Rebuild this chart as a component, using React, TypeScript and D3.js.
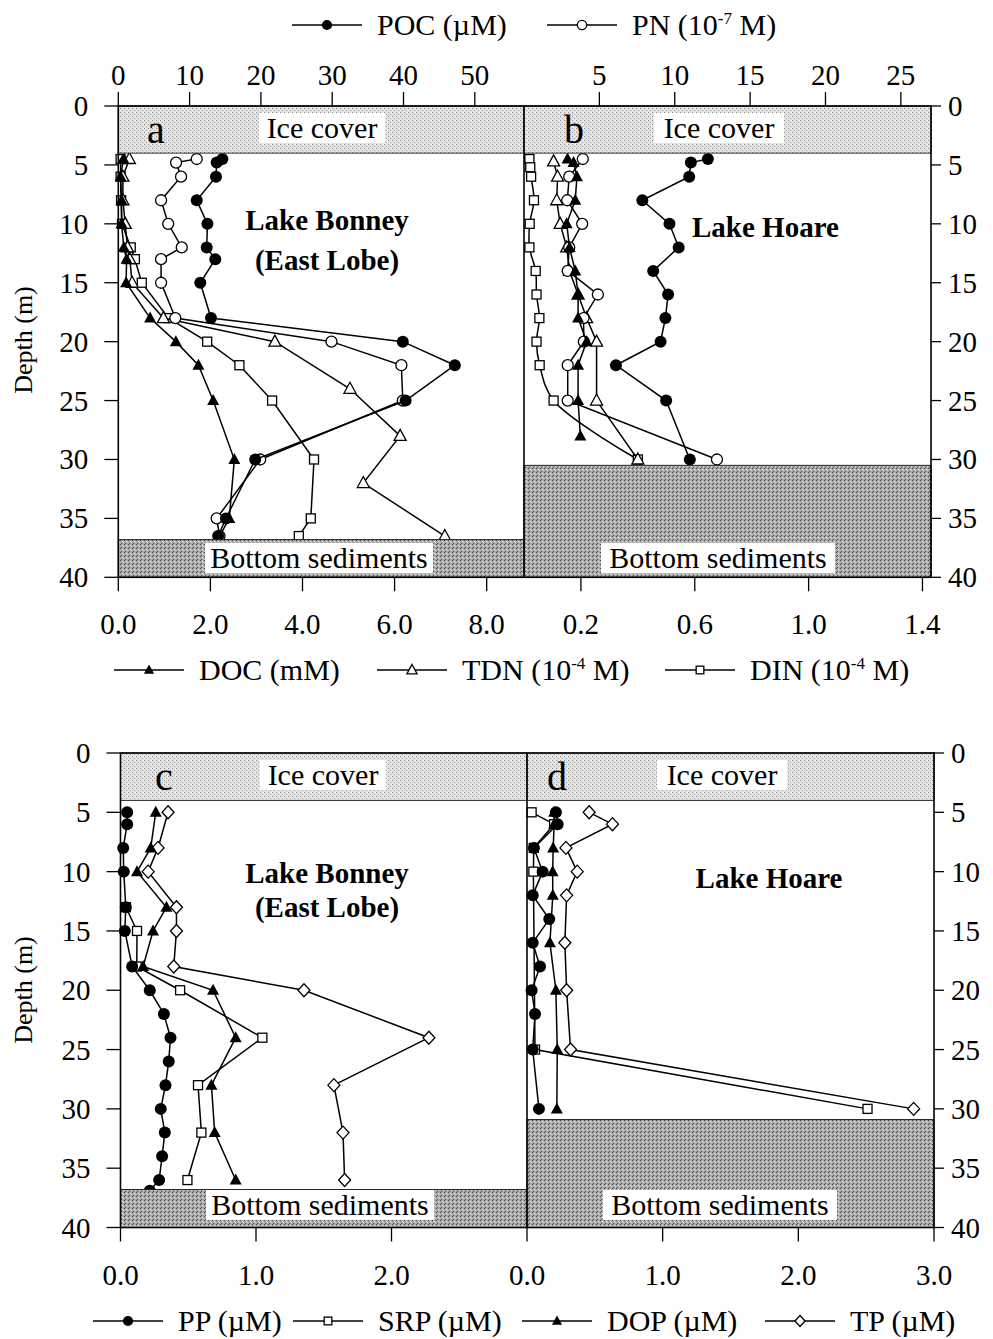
import React from 'react';
import * as d3 from 'd3';

type P = [number, number]; // [depth (m), value]

// ---------- Panel a : Lake Bonney (East Lobe) ----------
const pocA: P[] = [[4.5,14.6],[4.8,13.8],[6,13.7],[8,11.0],[10,12.5],[12,12.4],[13,13.6],[15,11.5],[18,13.0],[20,39.9],[22,47.2],[25,40.3],[30,19.2],[35,15.1],[36.5,14.0]];
const pnA: P[] = [[4.5,11.0],[4.8,8.1],[6,8.8],[8,6.0],[10,7.0],[12,8.9],[13,6.0],[15,6.0],[18,8.0],[20,29.9],[22,39.7],[25,39.9],[30,19.9],[35,13.8],[36.5,14.2]];
const docA: P[] = [[4.5,0.11],[6,0.05],[8,0.07],[10,0.07],[12,0.12],[13,0.18],[15,0.17],[18,0.69],[20,1.25],[22,1.74],[25,2.06],[30,2.52],[35,2.41],[36.5,2.2]];
const tdnA: P[] = [[4.5,0.24],[6,0.1],[8,0.1],[10,0.15],[12,0.2],[13,0.25],[15,0.3],[18,0.98],[20,3.4],[24,5.03],[28,6.12],[32,5.32],[36.5,7.09]];
const dinA: P[] = [[4.5,0.05],[6,0.05],[8,0.06],[10,0.08],[12,0.27],[13,0.36],[15,0.51],[18,1.09],[20,1.93],[22,2.63],[25,3.34],[30,4.25],[35,4.18],[36.5,3.92]];

// ---------- Panel b : Lake Hoare ----------
const pocB: P[] = [[4.5,12.2],[4.8,11.07],[6,10.96],[8,7.85],[10,9.65],[12,10.26],[14,8.57],[16,9.56],[18,9.38],[20,9.06],[22,6.1],[25,9.43],[30,11.0]];
const pnB: P[] = [[4.5,3.9],[6,3.0],[8,2.87],[10,3.86],[12,3.0],[14,2.9],[16,4.9],[18,3.95],[20,3.97],[22,2.9],[25,2.9],[30,12.8]];
const docB: P[] = [[4.5,0.153],[4.8,0.174],[6,0.186],[8,0.18],[10,0.15],[12,0.16],[14,0.18],[16,0.19],[18,0.19],[20,0.22],[22,0.19],[25,0.19],[28,0.198]];
const tdnB: P[] = [[4.7,0.104],[6,0.118],[8,0.115],[10,0.127],[12,0.15],[14,0.16],[16,0.19],[18,0.22],[20,0.255],[25,0.255],[30,0.4]];
const dinB: P[] = [[4.5,0.019],[5.2,0.022],[6,0.025],[8,0.035],[10,0.02],[12,0.019],[14,0.041],[16,0.044],[18,0.054],[20,0.044],[22,0.055],[25,0.104],[30,0.4]];

// ---------- Panel c : Lake Bonney (East Lobe), phosphorus ----------
const ppC: P[] = [[5,0.049],[6,0.049],[8,0.02],[10,0.024],[13,0.039],[15,0.032],[18,0.086],[20,0.216],[22,0.32],[24,0.369],[26,0.356],[28,0.332],[30,0.297],[32,0.327],[34,0.307],[36,0.285],[36.9,0.216]];
const srpC: P[] = [[13,0.04],[15,0.122],[18,0.12],[20,0.44],[24,1.047],[28,0.572],[32,0.597],[36,0.494]];
const dopC: P[] = [[5,0.26],[8,0.223],[10,0.122],[13,0.339],[15,0.24],[18,0.167],[20,0.683],[24,0.85],[28,0.671],[32,0.695],[36,0.85]];
const tpC: P[] = [[5,0.351],[8,0.277],[10,0.204],[13,0.413],[15,0.413],[18,0.393],[20,1.354],[24,2.276],[28,1.575],[32,1.642],[36,1.654]];

// ---------- Panel d : Lake Hoare, phosphorus ----------
const ppD: P[] = [[5,0.213],[6,0.226],[8,0.051],[10,0.115],[12,0.042],[14,0.164],[16,0.042],[18,0.096],[20,0.034],[22,0.059],[25,0.042],[30,0.088]];
const srpD: P[] = [[5,0.034],[6,0.2],[8,0.05],[10,0.047],[25,0.059],[30,2.51]];
const dopD: P[] = [[5,0.2],[6,0.2],[8,0.193],[10,0.189],[12,0.19],[16,0.169],[20,0.213],[25,0.223],[30,0.22]];
const tpD: P[] = [[5,0.458],[6,0.63],[8,0.287],[10,0.37],[12,0.292],[16,0.279],[20,0.292],[25,0.321],[30,2.85]];

// ---------- ticks ----------
const depthTicks = [0, 5, 10, 15, 20, 25, 30, 35, 40];
const topTicksA = [0, 10, 20, 30, 40, 50];
const topTicksB = [5, 10, 15, 20, 25];
const botTicksA = [0, 2, 4, 6, 8];
const botTicksB = [0.2, 0.6, 1.0, 1.4];
const ticksC = [0, 1, 2];
const ticksD = [0, 1, 2, 3];

const ICE_DEPTH = 4;
const SED_A = 36.8, SED_B = 30.5, SED_C = 36.8, SED_D = 30.9;

const FONT = "'Liberation Serif', 'Times New Roman', Times, serif";

type MType = 'fc' | 'oc' | 'ft' | 'ot' | 'sq' | 'dm';

function Marker({ t, x, y, s = 1 }: { t: MType; x: number; y: number; s?: number }) {
  const sw = 1.3;
  switch (t) {
    case 'fc':
      return <circle cx={x} cy={y} r={6 * s} fill="#000" />;
    case 'oc':
      return <circle cx={x} cy={y} r={5.5 * s} fill="#fff" stroke="#000" strokeWidth={sw} />;
    case 'ft':
      return <path d={`M${x},${y - 6.5 * s}L${x + 6 * s},${y + 4.5 * s}L${x - 6 * s},${y + 4.5 * s}Z`} fill="#000" />;
    case 'ot':
      return <path d={`M${x},${y - 6.5 * s}L${x + 6 * s},${y + 4.5 * s}L${x - 6 * s},${y + 4.5 * s}Z`} fill="#fff" stroke="#000" strokeWidth={sw} />;
    case 'sq':
      return <rect x={x - 4.5 * s} y={y - 4.5 * s} width={9 * s} height={9 * s} fill="#fff" stroke="#000" strokeWidth={sw} />;
    case 'dm':
      return <path d={`M${x},${y - 6.5 * s}L${x + 6 * s},${y}L${x},${y + 6.5 * s}L${x - 6 * s},${y}Z`} fill="#fff" stroke="#000" strokeWidth={sw} />;
  }
}

function Series({ data, x, y, t, curve }: { data: P[]; x: d3.ScaleLinear<number, number>; y: d3.ScaleLinear<number, number>; t: MType; curve?: d3.CurveFactory }) {
  const line = d3.line<P>().x(d => x(d[1])).y(d => y(d[0])).curve(curve ?? d3.curveLinear);
  return (
    <g>
      <path d={line(data) ?? ''} fill="none" stroke="#000" strokeWidth={1.5} />
      {data.map((d, i) => <Marker key={i} t={t} x={x(d[1])} y={y(d[0])} />)}
    </g>
  );
}

function LabelBox({ cx, y, text, w, h = 30 }: { cx: number; y: number; text: string; w: number; h?: number }) {
  return (
    <g>
      <rect x={cx - w / 2} y={y - h + 5} width={w} height={h} fill="#fff" />
      <text x={cx} y={y} textAnchor="middle" fontSize={30} fontFamily={FONT}>{text}</text>
    </g>
  );
}

function Shading({ x0, x1, y, sedFrom }: { x0: number; x1: number; y: d3.ScaleLinear<number, number>; sedFrom: number }) {
  return (
    <g>
      <rect x={x0} y={y(0)} width={x1 - x0} height={y(ICE_DEPTH) - y(0)} fill="url(#ice)" stroke="#333" strokeWidth={1} />
      <rect x={x0} y={y(sedFrom)} width={x1 - x0} height={y(40) - y(sedFrom)} fill="url(#sed)" stroke="#222" strokeWidth={1} />
    </g>
  );
}

function LegendItem({ x, y, t, children }: { x: number; y: number; t: MType; children: React.ReactNode }) {
  return (
    <g>
      <line x1={x} x2={x + 70} y1={y} y2={y} stroke="#000" strokeWidth={1.5} />
      <Marker t={t} x={x + 35} y={y} s={0.85} />
      <text x={x + 85} y={y + 10} fontSize={30} fontFamily={FONT}>{children}</text>
    </g>
  );
}

function Sup({ s }: { s: string }) {
  return (
    <>
      <tspan dy={-11} fontSize={17}>{s}</tspan>
      <tspan dy={11}> M)</tspan>
    </>
  );
}

function DepthAxes({ y, left, right }: { y: d3.ScaleLinear<number, number>; left: number; right: number }) {
  return (
    <g fontFamily={FONT} fontSize={29}>
      {depthTicks.map(d => (
        <g key={d}>
          <line x1={left - 14} x2={left} y1={y(d)} y2={y(d)} stroke="#000" strokeWidth={1.3} />
          <text x={left - 30} y={y(d) + 10} textAnchor="end">{d}</text>
          <line x1={right} x2={right + 10} y1={y(d)} y2={y(d)} stroke="#000" strokeWidth={1.3} />
          <text x={right + 17} y={y(d) + 10} textAnchor="start">{d}</text>
        </g>
      ))}
    </g>
  );
}

function XTicks({ x, ticks, y0, dir, labelY, fmt }: { x: d3.ScaleLinear<number, number>; ticks: number[]; y0: number; dir: number; labelY: number; fmt: (v: number) => string }) {
  return (
    <g fontFamily={FONT} fontSize={29}>
      {ticks.map(v => (
        <g key={v}>
          <line x1={x(v)} x2={x(v)} y1={y0} y2={y0 + dir * 14} stroke="#000" strokeWidth={1.3} />
          <text x={x(v)} y={labelY} textAnchor="middle">{fmt(v)}</text>
        </g>
      ))}
    </g>
  );
}

export default function App() {
  const yTop = d3.scaleLinear().domain([0, 40]).range([106, 577.3]);
  const yBot = d3.scaleLinear().domain([0, 40]).range([753, 1227.5]);
  const xATop = d3.scaleLinear().domain([0, 56.9]).range([118.3, 524]);
  const xABot = d3.scaleLinear().domain([0, 8.81]).range([118.3, 524]);
  const xBTop = d3.scaleLinear().domain([0, 27]).range([524, 931]);
  const xBBot = d3.scaleLinear().domain([0, 1.43]).range([524, 931]);
  const xC = d3.scaleLinear().domain([0, 3]).range([120.5, 527]);
  const xD = d3.scaleLinear().domain([0, 3]).range([527, 934]);

  const intFmt = (v: number) => String(v);
  const decFmt = (v: number) => v.toFixed(1);

  return (
    <svg width={993} height={1339} viewBox="0 0 993 1339" style={{ position: 'absolute', left: 0, top: 0, background: '#fff' }}>
      <defs>
        <pattern id="ice" width={4} height={4} patternUnits="userSpaceOnUse">
          <rect width={4} height={4} fill="#e2e2e2" />
          <rect x={0} y={0} width={1} height={1} fill="#8a8a8a" />
          <rect x={2} y={2} width={1} height={1} fill="#a8a8a8" />
          <rect x={3} y={0} width={1} height={1} fill="#f8f8f8" />
        </pattern>
        <pattern id="sed" width={4} height={4} patternUnits="userSpaceOnUse">
          <rect width={4} height={4} fill="#aaaaaa" />
          <rect x={0} y={0} width={1} height={1} fill="#444" />
          <rect x={2} y={1} width={1} height={1} fill="#e8e8e8" />
          <rect x={1} y={3} width={1} height={1} fill="#555" />
          <rect x={3} y={2} width={1} height={1} fill="#d0d0d0" />
        </pattern>
      </defs>
      <rect width={993} height={1339} fill="#fff" />

      {/* ================= TOP FIGURE ================= */}
      <g>
        <LegendItem x={292} y={25} t="fc">POC (µM)</LegendItem>
        <LegendItem x={547} y={25} t="oc">PN (10<Sup s="-7" /></LegendItem>

        <XTicks x={xATop} ticks={topTicksA} y0={106} dir={-1} labelY={85} fmt={intFmt} />
        <XTicks x={xBTop} ticks={topTicksB} y0={106} dir={-1} labelY={85} fmt={intFmt} />
        <XTicks x={xABot} ticks={botTicksA} y0={577.3} dir={1} labelY={634} fmt={decFmt} />
        <XTicks x={xBBot} ticks={botTicksB} y0={577.3} dir={1} labelY={634} fmt={decFmt} />
        <DepthAxes y={yTop} left={118.3} right={931} />

        {/* panel a data */}
        <Series data={dinA} x={xABot} y={yTop} t="sq" />
        <Series data={tdnA} x={xABot} y={yTop} t="ot" />
        <Series data={docA} x={xABot} y={yTop} t="ft" />
        <Series data={pnA} x={xATop} y={yTop} t="oc" />
        <Series data={pocA} x={xATop} y={yTop} t="fc" />
        {/* panel b data */}
        <Series data={dinB} x={xBBot} y={yTop} t="sq" curve={d3.curveCatmullRom} />
        <Series data={tdnB} x={xBBot} y={yTop} t="ot" />
        <Series data={pnB} x={xBTop} y={yTop} t="oc" />
        <Series data={docB} x={xBBot} y={yTop} t="ft" />
        <Series data={pocB} x={xBTop} y={yTop} t="fc" />

        <Shading x0={118.3} x1={524} y={yTop} sedFrom={SED_A} />
        <Shading x0={524} x1={931} y={yTop} sedFrom={SED_B} />

        <LabelBox cx={322} y={138} text="Ice cover" w={126} />
        <LabelBox cx={719} y={138} text="Ice cover" w={130} />
        <LabelBox cx={319} y={568} text="Bottom sediments" w={228} />
        <LabelBox cx={718} y={568} text="Bottom sediments" w={234} />

        <text x={156} y={143} textAnchor="middle" fontSize={40} fontFamily={FONT}>a</text>
        <text x={574} y={143} textAnchor="middle" fontSize={40} fontFamily={FONT}>b</text>

        <g fontFamily={FONT} fontSize={29} fontWeight="bold" textAnchor="middle">
          <text x={327} y={230}>Lake Bonney</text>
          <text x={327} y={270}>(East Lobe)</text>
          <text x={692} y={237} textAnchor="start">Lake Hoare</text>
        </g>

        <rect x={118.3} y={106} width={931 - 118.3} height={577.3 - 106} fill="none" stroke="#000" strokeWidth={1.6} />
        <line x1={524} x2={524} y1={106} y2={577.3} stroke="#000" strokeWidth={1.6} />

        <text transform="translate(32,340) rotate(-90)" textAnchor="middle" fontSize={26} fontFamily={FONT}>Depth (m)</text>

        <LegendItem x={114} y={670} t="ft">DOC (mM)</LegendItem>
        <LegendItem x={377} y={670} t="ot">TDN (10<Sup s="-4" /></LegendItem>
        <LegendItem x={665} y={670} t="sq">DIN (10<Sup s="-4" /></LegendItem>
      </g>

      {/* ================= BOTTOM FIGURE ================= */}
      <g>
        <XTicks x={xC} ticks={ticksC} y0={1227.5} dir={1} labelY={1285} fmt={decFmt} />
        <XTicks x={xD} ticks={ticksD} y0={1227.5} dir={1} labelY={1285} fmt={decFmt} />
        <DepthAxes y={yBot} left={120.5} right={934} />

        <Series data={srpC} x={xC} y={yBot} t="sq" />
        <Series data={tpC} x={xC} y={yBot} t="dm" />
        <Series data={dopC} x={xC} y={yBot} t="ft" />
        <Series data={ppC} x={xC} y={yBot} t="fc" />

        <Series data={srpD} x={xD} y={yBot} t="sq" />
        <Series data={tpD} x={xD} y={yBot} t="dm" />
        <Series data={dopD} x={xD} y={yBot} t="ft" />
        <Series data={ppD} x={xD} y={yBot} t="fc" />

        <Shading x0={120.5} x1={527} y={yBot} sedFrom={SED_C} />
        <Shading x0={527} x1={934} y={yBot} sedFrom={SED_D} />

        <LabelBox cx={323} y={785} text="Ice cover" w={126} />
        <LabelBox cx={722} y={785} text="Ice cover" w={130} />
        <LabelBox cx={320} y={1215} text="Bottom sediments" w={228} />
        <LabelBox cx={720} y={1215} text="Bottom sediments" w={234} />

        <text x={164} y={790} textAnchor="middle" fontSize={40} fontFamily={FONT}>c</text>
        <text x={557} y={790} textAnchor="middle" fontSize={40} fontFamily={FONT}>d</text>

        <g fontFamily={FONT} fontSize={29} fontWeight="bold" textAnchor="middle">
          <text x={327} y={883}>Lake Bonney</text>
          <text x={327} y={917}>(East Lobe)</text>
          <text x={769} y={888}>Lake Hoare</text>
        </g>

        <rect x={120.5} y={753} width={934 - 120.5} height={1227.5 - 753} fill="none" stroke="#000" strokeWidth={1.6} />
        <line x1={527} x2={527} y1={753} y2={1227.5} stroke="#000" strokeWidth={1.6} />

        <text transform="translate(32,990) rotate(-90)" textAnchor="middle" fontSize={26} fontFamily={FONT}>Depth (m)</text>

        <LegendItem x={93} y={1321} t="fc">PP (µM)</LegendItem>
        <LegendItem x={293} y={1321} t="sq">SRP (µM)</LegendItem>
        <LegendItem x={522} y={1321} t="ft">DOP (µM)</LegendItem>
        <LegendItem x={765} y={1321} t="dm">TP (µM)</LegendItem>
      </g>
    </svg>
  );
}
